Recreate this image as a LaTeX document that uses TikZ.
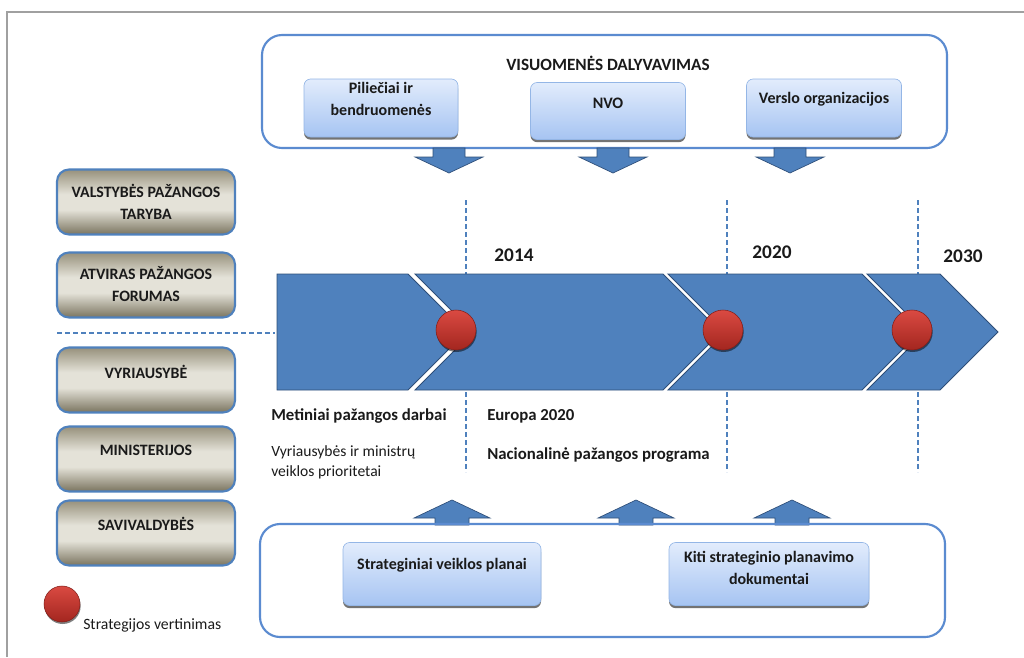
\documentclass[tikz,border=0pt]{standalone}
\usepackage{fontspec}
\setmainfont{Carlito}
\usetikzlibrary{shadows}
\definecolor{bblue}{HTML}{4F81BD}
\definecolor{bline}{HTML}{5B8BD0}
\definecolor{dblue}{HTML}{2E4E78}
\definecolor{lbtop}{HTML}{E2ECFC}
\definecolor{lbbot}{HTML}{A6C4F2}
\definecolor{lbdraw}{HTML}{94B6E6}
\definecolor{gtop}{HTML}{97917C}
\definecolor{gmid}{HTML}{E4E2D8}
\definecolor{gbot}{HTML}{7A745F}
\definecolor{rtop}{HTML}{DA4A42}
\definecolor{rbot}{HTML}{A3261F}
\definecolor{framegray}{HTML}{A0A0A0}
\definecolor{txt}{HTML}{1A1A1A}
\pgfdeclareverticalshading{grayshade}{100bp}{color(0bp)=(gbot); color(25bp)=(gbot); color(44bp)=(gmid); color(56bp)=(gmid); color(75bp)=(gtop); color(100bp)=(gtop)}
\newcommand\pxu{0.75pt}
\tikzset{
  bigbox/.style={draw=bline, line width=1.6pt, rounded corners=15pt},
  lbox/.style={draw=lbdraw, line width=0.5pt, rounded corners=5pt, top color=lbtop, bottom color=lbbot,
     drop shadow={shadow xshift=0pt, shadow yshift=-2pt, fill=black, opacity=0.55}},
  gbox/.style={draw=bblue, line width=1.6pt, rounded corners=9pt, shading=grayshade, minimum width=178*\pxu, minimum height=65*\pxu},
  blockarrow/.style={fill=bblue, draw=dblue, line width=0.5pt},
  seg/.style={fill=bblue, draw=dblue, line width=0.7pt},
  vdash/.style={draw=bblue, line width=1pt, dash pattern=on 3.5pt off 2.5pt},
  milestone/.style={circle, minimum size=40*\pxu, inner sep=0pt, draw=rbot!80!black, line width=0.4pt, top color=rtop, bottom color=rbot,
     drop shadow={shadow xshift=0.5pt, shadow yshift=-1.5pt, fill=black, opacity=0.5}},
  tb/.style={inner sep=0pt, text=txt, font=\fontsize{12.6}{15}\selectfont\bfseries},
  tn/.style={inner sep=0pt, text=txt, font=\fontsize{11.7}{15}\selectfont},
  boxtxt/.style={inner sep=0pt, text=txt, align=center, font=\fontsize{12}{17}\selectfont\bfseries},
  gtxt/.style={inner sep=0pt, text=txt, align=center, font=\fontsize{11.9}{17}\selectfont\bfseries},
  yeartxt/.style={inner sep=0pt, text=txt, font=\fontsize{14.5}{17}\selectfont\bfseries},
}
\begin{document}
\begin{tikzpicture}[x=0.75pt, y=-0.75pt]
\useasboundingbox (0,0) rectangle (1024,657);
% frame
\draw[framegray, line width=1.5pt] (7,657) -- (7,12) -- (1024,12);

% top group
\draw[bigbox] (262,35) rectangle (947,148);
\node[tb, font=\fontsize{12.9}{15}\selectfont\bfseries] (vis) at (608,63) {VISUOMENĖS DALYVAVIMAS};
\node[lbox, minimum width=154*\pxu, minimum height=58*\pxu] (pil) at (381,108) {};
\node[boxtxt] at (381,99) {Piliečiai ir\\bendruomenės};
\node[lbox, minimum width=155*\pxu, minimum height=57*\pxu] (nvo) at (608,111) {};
\node[boxtxt] at (608,103) {NVO};
\node[lbox, minimum width=155*\pxu, minimum height=58*\pxu] (ver) at (824,108) {};
\node[boxtxt] at (824,99) {Verslo organizacijos};

% down arrows
\foreach \c in {449,613,790}
  \filldraw[blockarrow] (\c-16,148) -- (\c+16,148) -- (\c+16,157) -- (\c+34,157) -- (\c,173) -- (\c-34,157) -- (\c-16,157) -- cycle;

% left boxes
\node[gbox] (vpt) at (146,202) {};
\node[gtxt] at (146,202) {VALSTYBĖS PAŽANGOS\\TARYBA};
\node[gbox] (apf) at (146,285) {};
\node[gtxt] at (146,284) {ATVIRAS PAŽANGOS\\FORUMAS};
\node[gbox] (vyr) at (146,380) {};
\node[gtxt] at (146,372) {VYRIAUSYBĖ};
\node[gbox] (min) at (146,459) {};
\node[gtxt] at (146,450) {MINISTERIJOS};
\node[gbox] (sav) at (146,533) {};
\node[gtxt] at (146,524) {SAVIVALDYBĖS};

% horizontal dashed line
\draw[vdash] (57,333) -- (275,333);

% vertical dashed lines
\draw[vdash] (466,200) -- (466,472);
\draw[vdash] (727,200) -- (727,472);
\draw[vdash] (918,200) -- (918,472);

% chevron band
\filldraw[seg] (277,274) -- (408,274) -- (466,332) -- (408,390) -- (277,390) -- cycle;
\filldraw[seg] (415,274) -- (663,274) -- (721,332) -- (663,390) -- (415,390) -- (473,332) -- cycle;
\filldraw[seg] (668,274) -- (862,274) -- (920,332) -- (862,390) -- (668,390) -- (726,332) -- cycle;
\filldraw[seg] (867,274) -- (940,274) -- (998,332) -- (940,390) -- (867,390) -- (925,332) -- cycle;

% milestones
\node[milestone] (m1) at (456,330) {};
\node[milestone] (m2) at (723,330) {};
\node[milestone] (m3) at (912,330) {};

% years
\node[yeartxt] (y1) at (514,255) {2014};
\node[yeartxt] (y2) at (772,252) {2020};
\node[yeartxt] (y3) at (963,256) {2030};

% texts under band
\node[tb, anchor=west] (met) at (271,416) {Metiniai pažangos darbai};
\node[tn, anchor=north west, align=left] (pri) at (271,445) {Vyriausybės ir ministrų\\veiklos prioritetai};
\node[tb, anchor=west] (eur) at (487,416) {Europa 2020};
\node[tb, anchor=west] (npp) at (487,455) {Nacionalinė pažangos programa};

% up arrows
\foreach \c in {452,636,792}
  \filldraw[blockarrow] (\c-17,525) -- (\c+17,525) -- (\c+17,518) -- (\c+38,518) -- (\c,500) -- (\c-38,518) -- (\c-17,518) -- cycle;

% bottom group
\draw[bigbox] (260,524) rectangle (945,637);
\node[lbox, minimum width=198*\pxu, minimum height=63*\pxu] (svp) at (442,574) {};
\node[boxtxt] at (442,565) {Strateginiai veiklos planai};
\node[lbox, minimum width=200*\pxu, minimum height=63*\pxu] (kit) at (769,574) {};
\node[boxtxt] at (769,568) {Kiti strateginio planavimo\\dokumentai};

% legend
\node[milestone, minimum size=36*\pxu] (leg) at (62,604) {};
\node[tn, anchor=west, font=\fontsize{11.8}{13}\selectfont] (legt) at (83,625) {Strategijos vertinimas};
\end{tikzpicture}
\end{document}
